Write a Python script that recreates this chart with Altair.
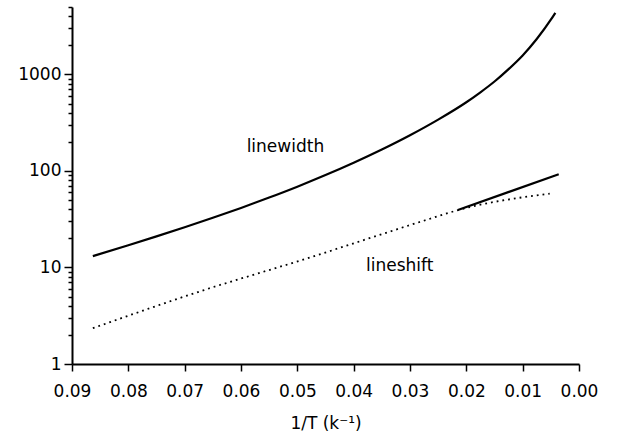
import altair as alt
import pandas as pd

# ---- data ----
width_x = [0.0863, 0.08, 0.075, 0.07, 0.065, 0.06, 0.055, 0.05, 0.045, 0.04,
           0.035, 0.03, 0.025, 0.02, 0.0175, 0.015, 0.0125, 0.01, 0.0075,
           0.005, 0.0042]
width_y = [13.1, 17.0, 21.0, 26.1, 32.7, 41.4, 53.0, 68.7, 90.6, 121.6,
           166.7, 234.4, 340.4, 515.2, 653.0, 845.0, 1135.0, 1574.0, 2328.0,
           3690.0, 4355.0]

shift_x = [0.0863, 0.0667, 0.0495, 0.0277, 0.0214, 0.0052]
shift_y = [2.35, 5.8, 11.8, 30.3, 39.4, 58.3]

branch_x = [0.0215, 0.0036]
branch_y = [39.4, 92.6]

label_text = ["linewidth", "lineshift"]
label_x = [0.059, 0.0378]
label_y = [157.0, 9.1]

x_ticks = [0.0, 0.01, 0.02, 0.03, 0.04, 0.05, 0.06, 0.07, 0.08, 0.09]
y_ticks = [1, 2, 3, 4, 5, 6, 7, 8, 9,
           10, 20, 30, 40, 50, 60, 70, 80, 90,
           100, 200, 300, 400, 500, 600, 700, 800, 900,
           1000, 2000, 3000, 4000, 5000]
y_major = [1, 10, 100, 1000]

FONT = "DejaVu Sans"

df_width = pd.DataFrame({"x": width_x, "y": width_y})
df_shift = pd.DataFrame({"x": shift_x, "y": shift_y})
df_branch = pd.DataFrame({"x": branch_x, "y": branch_y})
df_labels = pd.DataFrame({"x": label_x, "y": label_y, "t": label_text})

major_test = " || ".join(f"datum.value == {v}" for v in y_major)

x_enc = alt.X(
    "x:Q",
    scale=alt.Scale(domain=[0, 0.09], reverse=True, nice=False, zero=False),
    axis=alt.Axis(
        values=x_ticks,
        format=".2f",
        title="1/T (k\u207b\u00b9)",
        grid=False,
        tickSize=7,
        tickWidth=1.5,
        labelPadding=12,
        labelOverlap=False,
        labelFlush=False,
        titlePadding=16,
    ),
)
y_enc = alt.Y(
    "y:Q",
    scale=alt.Scale(type="log", domain=[1, 5000], nice=False),
    axis=alt.Axis(
        values=y_ticks,
        format="d",
        labelExpr=f"({major_test}) ? datum.label : ''",
        tickSize={"condition": {"test": major_test, "value": 8}, "value": 4},
        tickWidth=1.5,
        title=None,
        grid=False,
        labelPadding=3,
        labelOverlap=False,
    ),
)

base_w = alt.Chart(df_width).mark_line(
    color="black", strokeWidth=2.2, interpolate="monotone"
).encode(x=x_enc, y=y_enc)

base_b = alt.Chart(df_branch).mark_line(
    color="black", strokeWidth=2.2
).encode(x="x:Q", y="y:Q")

base_s = alt.Chart(df_shift).mark_line(
    color="black", strokeWidth=1.8, strokeDash=[1.8, 4.0], interpolate="monotone"
).encode(x="x:Q", y="y:Q")

labels = alt.Chart(df_labels).mark_text(
    align="left", baseline="alphabetic", font=FONT, fontSize=17, color="black"
).encode(x="x:Q", y="y:Q", text="t:N")

chart = (
    alt.layer(base_w, base_b, base_s, labels)
    .properties(
        width=507,
        height=357,
        padding={"left": 72, "top": 7, "right": 54, "bottom": 78},
        autosize="none",
    )
    .configure_view(stroke=None)
    .configure_axis(
        labelFont=FONT,
        labelFontSize=17,
        labelColor="black",
        titleFont=FONT,
        titleFontSize=17,
        titleFontWeight="normal",
        titleColor="black",
        domainColor="black",
        domainWidth=2,
        tickColor="black",
    )
)

chart.save("out.html", embed_options={"renderer": "svg", "actions": False})
